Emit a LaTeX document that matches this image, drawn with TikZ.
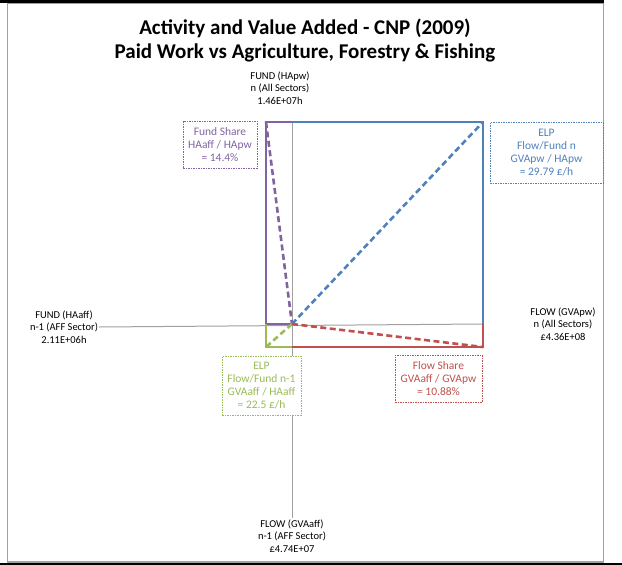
\documentclass[tikz,border=0pt]{standalone}
\usepackage{fontspec}
\setmainfont{Carlito}
\definecolor{fundpurple}{RGB}{128,100,162}
\definecolor{flowblue}{RGB}{79,129,189}
\definecolor{elpgreen}{RGB}{155,187,89}
\definecolor{sharered}{RGB}{192,80,77}
\definecolor{axisgray}{RGB}{160,160,160}
\tikzset{
  lbl/.style={align=center,font=\fontsize{10.5}{12.8}\selectfont,inner sep=1pt},
  infobox/.style={align=center,font=\fontsize{11.5}{12.8}\selectfont,draw,line width=0.6pt,dash pattern=on 1.5pt off 1pt,inner sep=0pt},
  edge/.style={line width=2.6pt},
  share/.style={line width=2.6pt,dash pattern=on 6pt off 3.5pt},
  axis/.style={axisgray,line width=1pt}
}
\begin{document}
\begin{tikzpicture}[x=1pt,y=-1pt]
  \useasboundingbox (0,0) rectangle (622,565);
  % rahmen
  \fill[black] (0,0) rectangle (604,2.5);
  \fill[black] (0,563) rectangle (622,565);
  \draw[axisgray,line width=1.2pt] (7.5,3.5) rectangle (603.5,562);
  % titel
  \node[font=\fontsize{21}{24}\selectfont\bfseries,align=center] (title) at (305,40)
    {Activity and Value Added - CNP (2009)\\Paid Work vs Agriculture, Forestry \& Fishing};
  % eckpunkte
  \coordinate (O) at (292,324);
  \coordinate (TL) at (266,122);
  \coordinate (T) at (292,122);
  \coordinate (TR) at (483,122);
  \coordinate (R) at (483,324);
  \coordinate (BL) at (266,347);
  \coordinate (L) at (266,324);
  \coordinate (B) at (292,347);
  \coordinate (BR) at (483,347);
  % achsen-beschriftungen
  \node[lbl] (tfund) at (280,88) {FUND (HApw)\\n (All Sectors)\\1.46E+07h};
  \node[lbl] (lfund) at (64,327) {FUND (HAaff)\\n-1 (AFF Sector)\\2.11E+06h};
  \node[lbl] (rflow) at (563,324) {FLOW (GVApw)\\n (All Sectors)\\£4.36E+08};
  \node[lbl] (bflow) at (292,536) {FLOW (GVAaff)\\n-1 (AFF Sector)\\£4.74E+07};
  % achsen
  \draw[axis] (lfund.east) -- (R);
  \draw[axis] (T) -- (bflow.north);
  % rechtecke
  \draw[edge,fundpurple] (O) -| (TL) -- (T);
  \draw[edge,flowblue] (T) -- (TR) -- (R);
  \draw[edge,elpgreen] (L) |- (B);
  \draw[edge,sharered] (R) |- (B);
  % diagonalen
  \draw[share,fundpurple] (TL) -- (O);
  \draw[share,flowblue] (O) -- (TR);
  \draw[share,elpgreen] (O) -- (BL);
  \draw[share,sharered] (O) -- (BR);
  % kaestchen
  \node[infobox,fundpurple,minimum width=74pt,minimum height=47pt] (fshare) at (220,144.5)
    {Fund Share\\HAaff / HApw\\= 14.4\%};
  \node[infobox,flowblue,minimum width=113pt,minimum height=61pt] (elpn) at (546.5,152.5)
    {ELP\\Flow/Fund n\\GVApw / HApw\\= 29.79 £/h};
  \node[infobox,elpgreen,minimum width=79pt,minimum height=59pt,fill=white] (elpm) at (261.5,385.5)
    {ELP\\Flow/Fund n-1\\GVAaff / HAaff\\= 22.5 £/h};
  \node[infobox,sharered,minimum width=87pt,minimum height=47pt] (flshare) at (438.5,378.5)
    {Flow Share\\GVAaff / GVApw\\= 10.88\%};
\end{tikzpicture}
\end{document}
